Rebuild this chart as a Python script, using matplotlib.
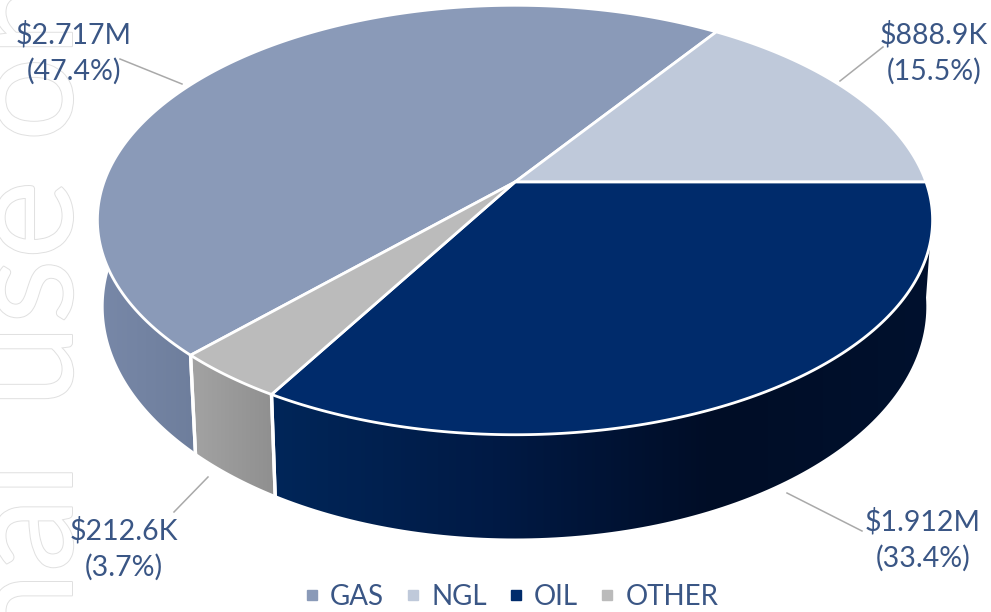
"""Perspective pie of revenue by product (GAS / NGL / OIL / OTHER)."""
import numpy as np
import matplotlib
matplotlib.use("Agg")
import matplotlib.pyplot as plt
from matplotlib import patheffects as pe
from matplotlib.colors import LinearSegmentedColormap
from matplotlib.lines import Line2D
from matplotlib.patches import Polygon

W, H = 991, 612

products = ["GAS", "NGL", "OIL", "OTHER"]
revenue = [2717000, 888900, 1912000, 212600]
value_labels = ["$2.717M\n(47.4%)", "$888.9K\n(15.5%)", "$1.912M\n(33.4%)", "$212.6K\n(3.7%)"]

top_colors = ["#8a9ab8", "#bfc9da", "#002b6b", "#bbbbbb"]
wall_colors = [["#7888a8", "#6e7e9c"], ["#a5afc0", "#a5afc0"],
               ["#012659", "#001a45", "#000d26", "#00112e"], ["#a3a3a3", "#8f8f8f"]]

TEXT = "#3a5685"
LEADER = "#a9a9a9"
FONT = "Lato"

# perspective model of the top disc
CX, CY = 515, 182
A, B, K = 411, 208, 0.177
# lower rim derived from the top rim
X_SHRINK, Y_SCALE, Y_SHIFT = 0.985, 1.08, 69


def rim(theta):
    u, v = np.cos(theta), np.sin(theta)
    d = 1 + K * v
    return CX + A * u / d, CY - B * v / d


def lower_rim(theta):
    x, y = rim(theta)
    return CX + X_SHRINK * (x - CX), Y_SCALE * y + Y_SHIFT


# slices run clockwise, OIL starts at 3 o'clock
total = sum(revenue)
sweep = {p: 2 * np.pi * r / total for p, r in zip(products, revenue)}
start = {}
a = 0.0
for p in ["OIL", "OTHER", "GAS", "NGL"]:
    start[p] = a
    a -= sweep[p]

fig = plt.figure(figsize=(W / 100, H / 100), dpi=100)
ax = fig.add_axes([0, 0, 1, 1])

# watermark behind everything, outlined letters running off the left edge
stroke = [pe.Stroke(linewidth=1.4, foreground="#e0e0e0"), pe.Normal()]
ax.text(72, 408, "use only", rotation=90, rotation_mode="anchor", ha="left", va="baseline",
        fontsize=108, family=FONT, color="white", path_effects=stroke, zorder=1)
ax.text(72, 462, "internal", rotation=90, rotation_mode="anchor", ha="right", va="baseline",
        fontsize=108, family=FONT, color="white", path_effects=stroke, zorder=1)

# walls: only the front part of each slice, the top disc hides the rest
wall_ranges = {
    "GAS": (start["GAS"], np.deg2rad(-200)),
    "OTHER": (start["OTHER"], start["OTHER"] - sweep["OTHER"]),
    "OIL": (np.deg2rad(-8), start["OIL"] - sweep["OIL"]),
}
for p, (t0, t1) in wall_ranges.items():
    t = np.linspace(t0, t1, 120)
    xt, yt = rim(t)
    xb, yb = lower_rim(t)
    pts = np.column_stack([np.r_[xt, xb[::-1]], np.r_[yt, yb[::-1]]])
    i = products.index(p)
    poly = Polygon(pts, closed=True, facecolor="none", edgecolor="none", zorder=2)
    ax.add_patch(poly)
    cmap = LinearSegmentedColormap.from_list(p, wall_colors[i])
    grad = np.linspace(0, 1, 256).reshape(1, -1)
    im = ax.imshow(grad, cmap=cmap, aspect="auto", zorder=2,
                   extent=[pts[:, 0].min(), pts[:, 0].max(), pts[:, 1].max(), pts[:, 1].min()])
    im.set_clip_path(poly)
    # white seam down the slice edges
    for tt in (t0, t1):
        if p == "GAS" and tt == t1 or p == "OIL" and tt == t0:
            continue
        x0, y0 = rim(tt)
        x1, y1 = lower_rim(tt)
        ax.plot([x0, x1], [y0, y1], color="white", lw=2.4, zorder=3)

# top disc
for p, col in zip(products, top_colors):
    t = np.linspace(start[p], start[p] - sweep[p], 160)
    x, y = rim(t)
    pts = np.column_stack([np.r_[CX, x], np.r_[CY, y]])
    ax.add_patch(Polygon(pts, closed=True, facecolor=col, edgecolor="white",
                         lw=2, joinstyle="round", zorder=4))

# value labels and leader lines
label_pos = [(74, 53), (934, 53), (923, 540), (124, 549)]
leaders = [((120, 59), (182, 84)), ((883, 47), (840, 81)),
           ((862, 531), (787, 493)), ((174, 512), (208, 477))]
for txt, (lx, ly), seg in zip(value_labels, label_pos, leaders):
    ax.text(lx, ly, txt, ha="center", va="center", fontsize=20.5, family=FONT,
            color=TEXT, linespacing=1.4, zorder=6)
    ax.plot([seg[0][0], seg[1][0]], [seg[0][1], seg[1][1]], color=LEADER, lw=1.1, zorder=5)

handles = [Line2D([], [], ls="none", marker="s", ms=7, color=c, label=p)
           for p, c in zip(products, top_colors)]
ax.legend(handles=handles, ncols=4, loc="center", bbox_to_anchor=(511 / W, 1 - 597 / H),
          frameon=False, prop={"family": FONT, "size": 20},
          labelcolor=TEXT, handlelength=0.6, handletextpad=0.35, columnspacing=0.75, borderpad=0)

ax.set_xlim(0, W)
ax.set_ylim(H, 0)
ax.axis("off")
fig.savefig("out.png", dpi=100, facecolor="white")
